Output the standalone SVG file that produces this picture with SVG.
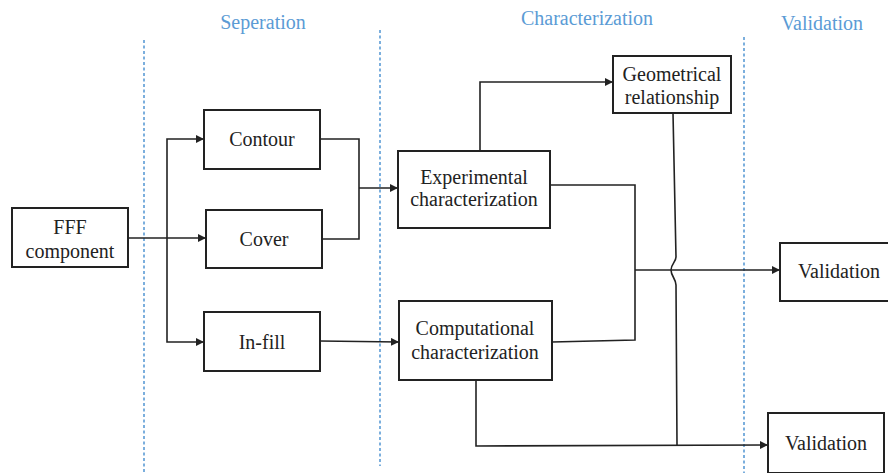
<svg xmlns="http://www.w3.org/2000/svg" width="888" height="473" viewBox="0 0 888 473">
<style>
.box{fill:#fff;stroke:#222;stroke-width:2}
.t{font-family:"Liberation Serif","Times New Roman",serif;font-size:20px;fill:#222;text-anchor:middle}
.h{font-family:"Liberation Serif","Times New Roman",serif;font-size:20px;fill:#5B9BD5;text-anchor:middle}
.sep{stroke:#5B9BD5;stroke-width:1.6;stroke-dasharray:3 2.5;fill:none}
.c{fill:none;stroke:#222;stroke-width:1.6}
</style>
<defs>
<marker id="arr" viewBox="0 0 10 10" refX="10" refY="5" markerWidth="8" markerHeight="8" markerUnits="userSpaceOnUse" orient="auto">
<path d="M0,0 L10,5 L0,10 z" fill="#222"/>
</marker>
</defs>
<g id="separators">
<line class="sep" x1="144" y1="40" x2="144" y2="473"/>
<line class="sep" x1="380" y1="30" x2="380" y2="466"/>
<line class="sep" x1="744" y1="37" x2="744" y2="473"/>
</g>
<g id="headers">
<text class="h" x="263" y="29">Seperation</text>
<text class="h" x="587" y="25">Characterization</text>
<text class="h" x="822" y="30">Validation</text>
</g>
<g id="connectors">
<polyline class="c" points="128,238 206,238" marker-end="url(#arr)"/>
<polyline class="c" points="167,238 167,139 204,139" marker-end="url(#arr)"/>
<polyline class="c" points="167,238 167,342 204,342" marker-end="url(#arr)"/>
<polyline class="c" points="320,139 359,139 359,239 322,239"/>
<polyline class="c" points="359,188 398,188" marker-end="url(#arr)"/>
<polyline class="c" points="320,341 399,342" marker-end="url(#arr)"/>
<polyline class="c" points="480,151 480,82 613,82" marker-end="url(#arr)"/>
<polyline class="c" points="550,185 635,185 635,340 552,342"/>
<polyline class="c" points="635,270 780,270" marker-end="url(#arr)"/>
<path class="c" d="M673,113 L676,257 C676,262 671,264 671,270 C671,276 676,279 676,285 L677,445"/>
<polyline class="c" points="476,380 476,446 768,445" marker-end="url(#arr)"/>
</g>
<g id="fff">
<rect class="box" x="12" y="208" width="116" height="59"/>
<text class="t" x="70" y="234">FFF</text>
<text class="t" x="70" y="258">component</text>
</g>
<g id="contour">
<rect class="box" x="204" y="110" width="116" height="59"/>
<text class="t" x="262" y="146">Contour</text>
</g>
<g id="cover">
<rect class="box" x="206" y="210" width="116" height="58"/>
<text class="t" x="264" y="246">Cover</text>
</g>
<g id="infill">
<rect class="box" x="204" y="312" width="116" height="59"/>
<text class="t" x="262" y="349">In-fill</text>
</g>
<g id="experimental">
<rect class="box" x="398" y="151" width="152" height="77"/>
<text class="t" x="474" y="184">Experimental</text>
<text class="t" x="474" y="206">characterization</text>
</g>
<g id="computational">
<rect class="box" x="399" y="301" width="153" height="79"/>
<text class="t" x="475" y="335">Computational</text>
<text class="t" x="475" y="359">characterization</text>
</g>
<g id="geometrical">
<rect class="box" x="613" y="56" width="118" height="57"/>
<text class="t" x="672" y="81">Geometrical</text>
<text class="t" x="672" y="104">relationship</text>
</g>
<g id="validation1">
<rect class="box" x="780" y="243" width="110" height="58"/>
<text class="t" x="839" y="278">Validation</text>
</g>
<g id="validation2">
<rect class="box" x="768" y="413" width="116" height="60"/>
<text class="t" x="826" y="450">Validation</text>
</g>
</svg>
